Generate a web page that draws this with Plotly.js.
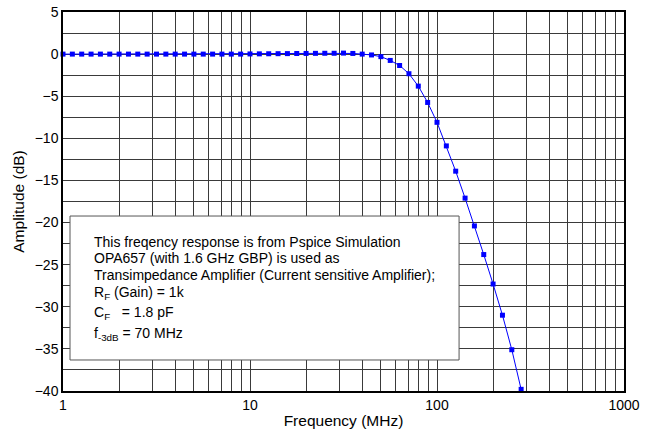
<!DOCTYPE html>
<html>
<head>
<meta charset="utf-8">
<script src="https://cdn.plot.ly/plotly-3.0.1.min.js"></script>
<style>html,body{margin:0;padding:0;background:#fff;}#chart{width:665px;height:435px;}</style>
</head>
<body>
<div id="chart"></div>
<script>
// Frequency points (MHz)
var freqMHz = [1, 1.122, 1.259, 1.413, 1.585, 1.778, 1.995, 2.239, 2.512, 2.818,
  3.162, 3.548, 3.981, 4.467, 5.012, 5.623, 6.310, 7.079, 7.943, 8.913,
  10, 11.22, 12.59, 14.13, 15.85, 17.78, 19.95, 22.39, 25.12, 28.18,
  31.62, 35.48, 39.81, 44.67, 50.12, 56.23, 63.10, 70.79, 79.43, 89.13,
  100, 112.2, 125.9, 141.3, 158.5, 177.8, 199.5, 223.9, 251.2, 281.8];
// Amplitude (dB)
var amplitudeDB = [0, 0, 0, 0, 0, 0, 0, 0, 0, 0,
  0, 0, 0, 0, 0, 0, 0, 0, 0, 0,
  0.02, 0.03, 0.04, 0.05, 0.06, 0.07, 0.08, 0.09, 0.1, 0.1,
  0.12, 0.08, 0.0, -0.1, -0.3, -0.75, -1.35, -2.33, -3.8, -5.74,
  -8.1, -10.9, -13.9, -17.1, -20.4, -23.8, -27.3, -31.0, -35.1, -39.8];

var xTickVals = [1, 10, 100, 1000];
var xTickText = ['1', '10', '100', '1000'];
var xMinorVals = [2,3,4,5,6,7,8,9,20,30,40,50,60,70,80,90,200,300,400,500,600,700,800,900];

var noteLines = [
  'This freqency response is from Pspice Simulation',
  'OPA657 (with 1.6 GHz GBP) is used as',
  'Transimpedance Amplifier (Current sensitive Amplifier);',
  'R<sub>F</sub> (Gain) = 1k',
  'C<sub>F</sub>   = 1.8 pF',
  'f<sub>-3dB</sub> = 70 MHz'
];
var noteY = [0.3931, 0.3509, 0.3061, 0.2586, 0.2058, 0.1504];

var font = 'Liberation Sans, Arial, sans-serif';

var trace = {
  x: freqMHz, y: amplitudeDB, type: 'scatter', mode: 'lines+markers',
  line: {color: '#0000ff', width: 1},
  marker: {color: '#0000ff', symbol: 'square', size: 5},
  showlegend: false, cliponaxis: false
};

var annotations = noteLines.map(function(t, i){
  return {xref: 'paper', yref: 'paper', x: 0.0517, y: noteY[i], xanchor: 'left', yanchor: 'middle',
    text: t, showarrow: false, align: 'left', font: {family: font, size: 14, color: '#000'}};
});

var layout = {
  width: 665, height: 435,
  margin: {l: 63, r: 41, t: 12, b: 44},
  paper_bgcolor: '#fff', plot_bgcolor: '#fff',
  font: {family: font, size: 14, color: '#000'},
  xaxis: {
    type: 'log', range: [0, 3],
    tickmode: 'array', tickvals: xTickVals, ticktext: xTickText,
    showgrid: true, gridcolor: '#3a3a3a', gridwidth: 1,
    minor: {tickmode: 'array', tickvals: xMinorVals, showgrid: true, gridcolor: '#3a3a3a', gridwidth: 1, ticks: ''},
    showline: true, linecolor: '#000', linewidth: 1.5, mirror: true,
    ticks: '', zeroline: false,
    tickfont: {family: font, size: 14},
    title: {text: 'Frequency (MHz)', font: {family: font, size: 15.5}, standoff: 4}
  },
  yaxis: {
    range: [-40, 5], dtick: 5, tick0: 0,
    showgrid: true, gridcolor: '#3a3a3a', gridwidth: 1,
    minor: {dtick: 2.5, showgrid: true, gridcolor: '#3a3a3a', gridwidth: 1},
    showline: true, linecolor: '#000', linewidth: 1.5, mirror: true,
    ticks: '', zeroline: false,
    tickfont: {family: font, size: 14},
    title: {text: 'Amplitude (dB)', font: {family: font, size: 15.5}, standoff: 6}
  },
  shapes: [
    {type: 'rect', xref: 'paper', yref: 'paper', x0: 0.0125, x1: 0.706, y0: 0.0818, y1: 0.4617,
     fillcolor: '#fff', line: {color: '#555', width: 1}, layer: 'above'}
  ],
  annotations: annotations
};

Plotly.newPlot('chart', [trace], layout, {displayModeBar: false});
</script>
</body>
</html>
